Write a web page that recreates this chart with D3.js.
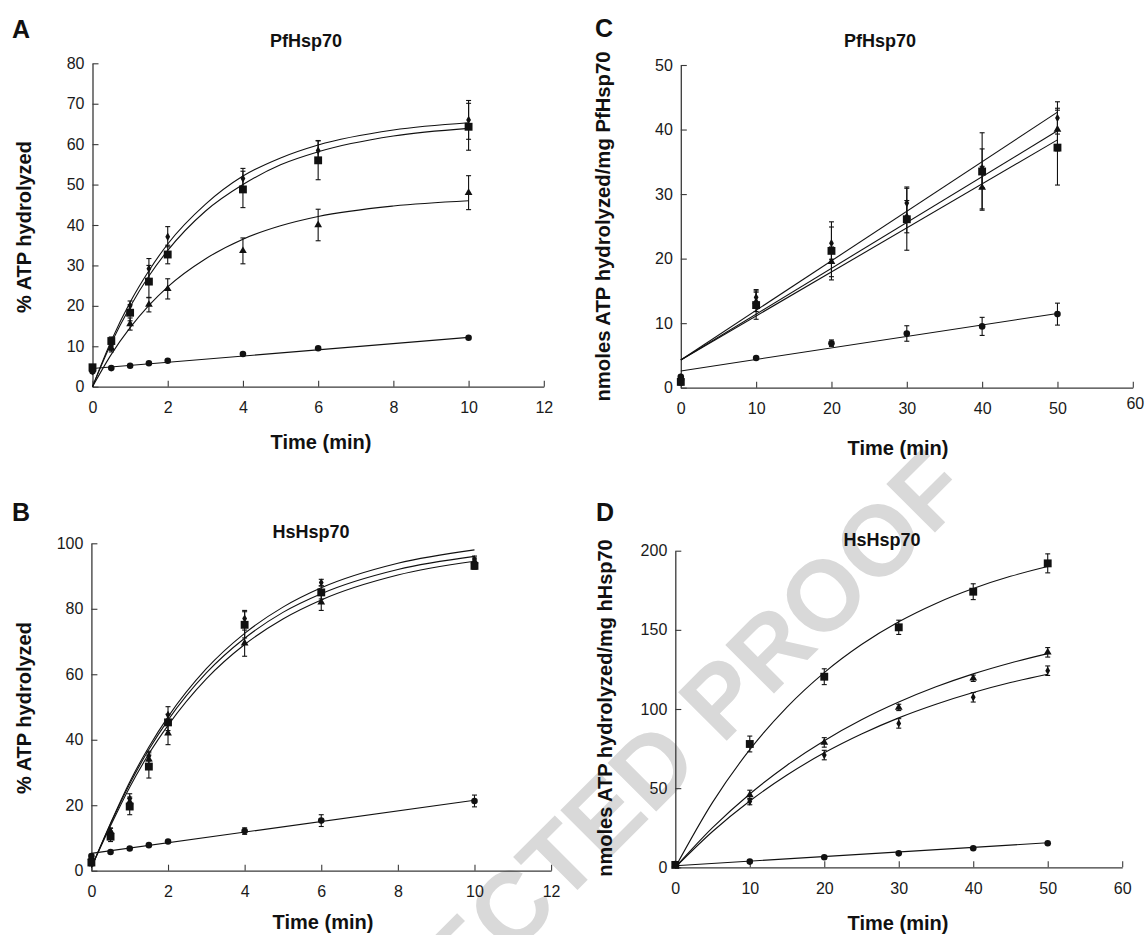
<!DOCTYPE html>
<html><head><meta charset="utf-8">
<script src="https://cdn.jsdelivr.net/npm/d3@7"></script>
<style>
body{margin:0;background:#fff}
svg{display:block}
text{font-family:"Liberation Sans",Arial,Helvetica,sans-serif}
</style>
</head><body>
<svg id="chart" width="1146" height="935"></svg>
<script>
// ---------- Panel A : PfHsp70, % ATP hydrolyzed ----------
const timesAB = [0, 0.5, 1, 1.5, 2, 4, 6, 10];
const A_diamond = [3.8, 10, 20, 29.2, 37.1, 51.5, 58.4, 66];
const A_diamondErr = [0.5, 1, 1.2, 2.5, 2.5, 2.5, 2.5, 4.8];
const A_square = [4.8, 11.3, 18.3, 26, 32.7, 48.8, 56, 64.3];
const A_squareErr = [0.5, 1, 2, 4, 2.3, 4.5, 4.8, 5.8];
const A_triangle = [4.2, 9.6, 15.5, 20.3, 24.2, 33.6, 40, 48];
const A_triangleErr = [0.5, 1, 1.5, 1.8, 2.5, 3.2, 3.9, 4.2];
const A_circle = [3.8, 4.6, 5.2, 5.8, 6.4, 8.1, 9.5, 12.1];
const A_circleErr = [0.3, 0.3, 0.3, 0.4, 0.4, 0.4, 0.7, 0.6];

const fitTimesAB = [0, 0.5, 1, 1.5, 2, 3, 4, 5, 6, 8, 10];
const A_fitDiamond = [0, 11.4, 20.9, 28.7, 35.3, 45.1, 52.1, 56.6, 59.8, 63.5, 65.3];
const A_fitSquare = [0, 10.8, 19.8, 27.4, 33.7, 43.4, 50.0, 54.9, 58.1, 62.0, 63.9];
const A_fitTriangle = [0, 8.0, 14.6, 20.1, 24.7, 31.6, 36.5, 39.8, 42.1, 44.7, 46.0];
const lineTimesAB = [0, 10];
const A_fitCircle = [4.5, 12.2];

// ---------- Panel B : HsHsp70, % ATP hydrolyzed ----------
const B_diamond = [4, 12, 22, 35, 47.6, 77, 88, 95.1];
const B_diamondErr = [0.5, 1, 1.5, 1.5, 2.5, 2.5, 1, 1];
const B_square = [2.5, 10.4, 19.6, 31.8, 45.3, 75.1, 85, 93.1];
const B_squareErr = [1, 1.5, 2.5, 3.5, 2.5, 4, 2, 1];
const B_triangle = [4, 12, 21, 34, 42, 69.5, 82, 94.5];
const B_triangleErr = [0.5, 1, 1.5, 2, 3.5, 4, 2.5, 1];
const B_circle = [4.5, 5.7, 6.8, 7.8, 8.9, 12.1, 15.3, 21.3];
const B_circleErr = [0.5, 0.5, 0.5, 0.5, 0.5, 1, 1.8, 1.8];
const B_fitTop = [1, 14.5, 27.1, 37.8, 47.0, 61.7, 72.5, 80.5, 86.4, 93.9, 98.0];
const B_fitMid = [1, 14.3, 26.5, 37.0, 46.0, 60.4, 71.0, 78.9, 84.6, 92.0, 96.0];
const B_fitBot = [1, 13.7, 25.5, 35.7, 44.4, 58.6, 69.1, 76.9, 82.7, 90.3, 94.5];
const B_fitCircle = [5.3, 21.5];

// ---------- Panel C : PfHsp70, nmoles ATP / mg ----------
const timesCD = [0, 10, 20, 30, 40, 50];
const C_diamond = [1.5, 14.0, 22.4, 28.6, 34.0, 41.8];
const C_diamondErr = [0.3, 1.2, 2.5, 2.5, 3, 2.5];
const C_square = [0.9, 12.8, 21.2, 26.1, 33.5, 37.2];
const C_squareErr = [0.5, 2.2, 4.5, 4.8, 6, 5.8];
const C_triangle = [1.5, 13.3, 19.5, 26.5, 31.0, 40.0];
const C_triangleErr = [0.3, 1.5, 2.3, 2.5, 3.3, 3.3];
const C_circle = [1.7, 4.6, 6.9, 8.4, 9.5, 11.4];
const C_circleErr = [0.3, 0.3, 0.5, 1.2, 1.4, 1.7];
const lineTimesCD = [0, 50];
const C_fitDiamond = [4.3, 42.7];
const C_fitTriangle = [4.3, 39.8];
const C_fitSquare = [4.3, 38.4];
const C_fitCircle = [2.6, 11.5];

// ---------- Panel D : HsHsp70, nmoles ATP / mg ----------
const D_square = [1.5, 77.9, 120.4, 151.6, 174.1, 192];
const D_squareErr = [0.5, 5, 5, 4.5, 5, 6];
const D_triangle = [1.5, 45.7, 78.9, 101, 119.4, 135.8];
const D_triangleErr = [0.5, 3, 3, 2, 2, 3];
const D_diamond = [1.5, 41.5, 70.9, 90.9, 107.4, 124.2];
const D_diamondErr = [0.5, 2, 3, 3, 3, 3];
const D_circle = [2, 3.6, 6.3, 8.8, 12, 15.2];
const D_circleErr = [0.3, 0.5, 0.5, 0.5, 0.7, 0.7];
const fitTimesD = [0, 5, 10, 15, 20, 25, 30, 35, 40, 45, 50];
const D_fitSquare = [0, 41.0, 74.3, 101.2, 123.0, 140.7, 155.1, 166.7, 176.1, 183.8, 190.0];
const D_fitTriangle = [0, 25.0, 46.3, 64.5, 80.0, 93.2, 104.4, 114.0, 122.2, 129.1, 135.0];
const D_fitDiamond = [0, 22.6, 41.9, 58.3, 72.3, 84.2, 94.4, 103.0, 110.4, 116.7, 122.0];
const D_fitCircle = [1, 15.5];

// ---------- tick labels ----------
const xTicksAB = [0, 2, 4, 6, 8, 10, 12];
const xTicksCD = [0, 10, 20, 30, 40, 50, 60];
const yTicksA = [0, 10, 20, 30, 40, 50, 60, 70, 80];
const yTicksB = [0, 20, 40, 60, 80, 100];
const yTicksC = [0, 10, 20, 30, 40, 50];
const yTicksD = [0, 50, 100, 150, 200];

const svg = d3.select('#chart');
const FONT = '"Liberation Sans", Arial, Helvetica, sans-serif';

// watermark (behind everything, cut by the page edge as in the reference)
svg.append('text')
  .attr('transform', 'translate(254.6,1213) rotate(-45)')
  .attr('font-size', 100).attr('font-weight', 'bold')
  .attr('fill', '#d9d9d9')
  .text('CORRECTED PROOF');

const symbols = {
  diamond: d3.symbol().type(d3.symbolDiamond).size(20),
  square: d3.symbol().type(d3.symbolSquare).size(62),
  triangle: d3.symbol().type(d3.symbolTriangle).size(26),
  circle: d3.symbol().type(d3.symbolCircle).size(34)
};

function panel(cfg) {
  const x = d3.scaleLinear().domain([0, cfg.xMax]).range([cfg.x0, cfg.x1]);
  const y = d3.scaleLinear().domain([0, cfg.yMax]).range([cfg.y0, cfg.y1]);
  const g = svg.append('g');

  const xa = g.append('g').attr('transform', `translate(0,${cfg.y0})`)
    .call(d3.axisBottom(x).tickValues(cfg.xTicks).tickSizeInner(-6).tickSizeOuter(0).tickPadding(15));
  const ya = g.append('g').attr('transform', `translate(${cfg.x0},0)`)
    .call(d3.axisLeft(y).tickValues(cfg.yTicks).tickSizeInner(-6).tickSizeOuter(0).tickPadding(8));
  [xa, ya].forEach(a => {
    a.attr('font-size', 16).attr('font-family', FONT);
    a.select('.domain').attr('stroke', '#3a3a3a').attr('stroke-width', 1.3);
    a.selectAll('.tick line').attr('stroke', '#3a3a3a').attr('stroke-width', 1.1);
    a.selectAll('.tick text').attr('fill', '#1a1a1a');
  });
  if (cfg.lastXLabelShift) {
    xa.selectAll('.tick text').filter(d => d === cfg.xMax)
      .attr('transform', `translate(${cfg.lastXLabelShift[0]},${cfg.lastXLabelShift[1]})`);
  }

  // fitted lines
  cfg.fits.forEach(f => {
    const line = d3.line().x((d, i) => x(f.t[i])).y(d => y(d))
      .curve(f.t.length > 2 ? d3.curveMonotoneX : d3.curveLinear);
    g.append('path').attr('d', line(f.v)).attr('fill', 'none')
      .attr('stroke', '#111').attr('stroke-width', 1.1);
  });

  // error bars and markers
  cfg.series.forEach(s => {
    const eg = g.append('g').attr('stroke', '#111').attr('stroke-width', 1.1);
    s.v.forEach((v, i) => {
      const e = s.e[i];
      if (e < 0.8 * (cfg.yMax / 80)) return;
      const cx = x(cfg.times[i]);
      eg.append('line').attr('x1', cx).attr('x2', cx).attr('y1', y(v - e)).attr('y2', y(v + e));
      eg.append('line').attr('x1', cx - 2.5).attr('x2', cx + 2.5).attr('y1', y(v - e)).attr('y2', y(v - e));
      eg.append('line').attr('x1', cx - 2.5).attr('x2', cx + 2.5).attr('y1', y(v + e)).attr('y2', y(v + e));
    });
    g.append('g').selectAll('path').data(s.v).join('path')
      .attr('d', symbols[s.sym])
      .attr('transform', (d, i) => `translate(${x(cfg.times[i])},${y(d)})`)
      .attr('fill', '#111');
  });

  // texts
  svg.append('text').attr('x', cfg.letter[0]).attr('y', cfg.letter[1])
    .attr('font-size', 25).attr('font-weight', 'bold').attr('fill', '#111').text(cfg.letterText);
  svg.append('text').attr('x', cfg.title[0]).attr('y', cfg.title[1])
    .attr('text-anchor', 'middle').attr('font-size', 18).attr('font-weight', 'bold')
    .attr('fill', '#111').text(cfg.titleText);
  svg.append('text').attr('x', cfg.xlab[0]).attr('y', cfg.xlab[1])
    .attr('text-anchor', 'middle').attr('font-size', 20).attr('font-weight', 'bold')
    .attr('fill', '#111').text('Time (min)');
  svg.append('text')
    .attr('transform', `translate(${cfg.ylab[0]},${cfg.ylab[1]}) rotate(-90)`)
    .attr('text-anchor', 'middle').attr('dy', '0.36em')
    .attr('font-size', cfg.ylabSize).attr('font-weight', 'bold')
    .attr('fill', '#111').text(cfg.ylabText);
}

panel({
  xMax: 12, yMax: 80, x0: 92.5, x1: 543.8, y0: 386.7, y1: 63.3,
  xTicks: xTicksAB, yTicks: yTicksA, times: timesAB,
  fits: [
    {t: fitTimesAB, v: A_fitDiamond}, {t: fitTimesAB, v: A_fitSquare},
    {t: fitTimesAB, v: A_fitTriangle}, {t: lineTimesAB, v: A_fitCircle}
  ],
  series: [
    {sym: 'circle', v: A_circle, e: A_circleErr},
    {sym: 'triangle', v: A_triangle, e: A_triangleErr},
    {sym: 'square', v: A_square, e: A_squareErr},
    {sym: 'diamond', v: A_diamond, e: A_diamondErr}
  ],
  letter: [12, 38], letterText: 'A',
  title: [306, 47], titleText: 'PfHsp70',
  xlab: [321, 449],
  ylab: [24, 227], ylabSize: 20, ylabText: '% ATP hydrolyzed'
});

panel({
  xMax: 12, yMax: 100, x0: 91.4, x1: 551.1, y0: 870.7, y1: 543.3,
  xTicks: xTicksAB, yTicks: yTicksB, times: timesAB,
  fits: [
    {t: fitTimesAB, v: B_fitTop}, {t: fitTimesAB, v: B_fitMid},
    {t: fitTimesAB, v: B_fitBot}, {t: lineTimesAB, v: B_fitCircle}
  ],
  series: [
    {sym: 'circle', v: B_circle, e: B_circleErr},
    {sym: 'triangle', v: B_triangle, e: B_triangleErr},
    {sym: 'diamond', v: B_diamond, e: B_diamondErr},
    {sym: 'square', v: B_square, e: B_squareErr}
  ],
  letter: [12, 521], letterText: 'B',
  title: [311, 538], titleText: 'HsHsp70',
  xlab: [323, 929],
  ylab: [24, 708], ylabSize: 20, ylabText: '% ATP hydrolyzed'
});

panel({
  xMax: 60, yMax: 50, x0: 680.8, x1: 1132.8, y0: 387.7, y1: 65,
  xTicks: xTicksCD, yTicks: yTicksC, times: timesCD, lastXLabelShift: [2, -5],
  fits: [
    {t: lineTimesCD, v: C_fitDiamond}, {t: lineTimesCD, v: C_fitTriangle},
    {t: lineTimesCD, v: C_fitSquare}, {t: lineTimesCD, v: C_fitCircle}
  ],
  series: [
    {sym: 'circle', v: C_circle, e: C_circleErr},
    {sym: 'triangle', v: C_triangle, e: C_triangleErr},
    {sym: 'diamond', v: C_diamond, e: C_diamondErr},
    {sym: 'square', v: C_square, e: C_squareErr}
  ],
  letter: [595, 37], letterText: 'C',
  title: [880, 47], titleText: 'PfHsp70',
  xlab: [898, 455],
  ylab: [603, 226.5], ylabSize: 20.3, ylabText: 'nmoles ATP hydrolyzed/mg PfHsp70'
});

panel({
  xMax: 60, yMax: 200, x0: 675.3, x1: 1122.2, y0: 867.3, y1: 550.7,
  xTicks: xTicksCD, yTicks: yTicksD, times: timesCD,
  fits: [
    {t: fitTimesD, v: D_fitSquare}, {t: fitTimesD, v: D_fitTriangle},
    {t: fitTimesD, v: D_fitDiamond}, {t: lineTimesCD, v: D_fitCircle}
  ],
  series: [
    {sym: 'circle', v: D_circle, e: D_circleErr},
    {sym: 'diamond', v: D_diamond, e: D_diamondErr},
    {sym: 'triangle', v: D_triangle, e: D_triangleErr},
    {sym: 'square', v: D_square, e: D_squareErr}
  ],
  letter: [596, 521], letterText: 'D',
  title: [882, 546], titleText: 'HsHsp70',
  xlab: [898, 930],
  ylab: [605, 708], ylabSize: 20, ylabText: 'nmoles ATP hydrolyzed/mg hHsp70'
});
</script>
</body></html>
